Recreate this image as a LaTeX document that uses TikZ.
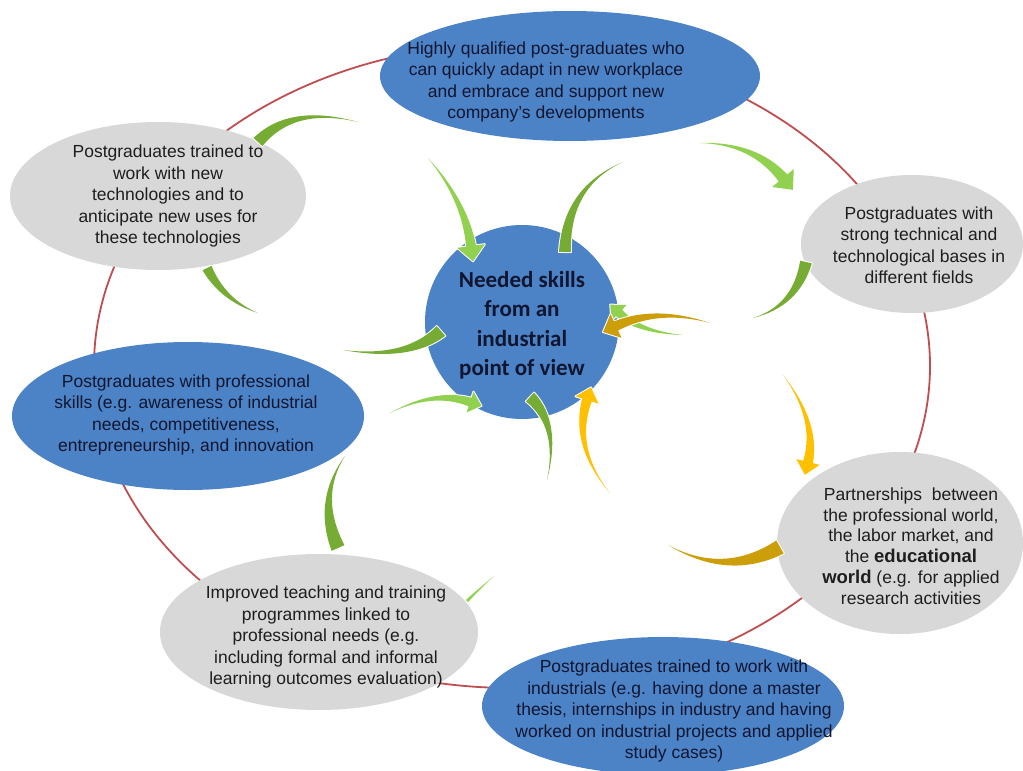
\documentclass[tikz,border=0pt]{standalone}
\usepackage{fontspec}
\setmainfont{Liberation Sans}
\newfontfamily\carlitofont{Carlito}
\usetikzlibrary{calc,shapes.geometric}
\definecolor{ellblue}{RGB}{76,130,198}
\definecolor{ellgray}{RGB}{216,216,216}
\definecolor{ringred}{RGB}{190,78,80}
\definecolor{lgreen}{RGB}{146,208,80}
\definecolor{dgreen}{RGB}{118,172,52}
\definecolor{gold}{RGB}{255,192,0}
\definecolor{dgold}{RGB}{204,158,10}
\definecolor{navytext}{RGB}{16,22,48}
\definecolor{graytext}{RGB}{30,30,30}
\tikzset{
  blueell/.style={ellipse, fill=ellblue, inner sep=0pt},
  grayell/.style={ellipse, fill=ellgray, inner sep=0pt},
  ringstyle/.style={ellipse, draw=ringred, line width=1.8pt, inner sep=0pt},
  bodytext/.style={align=center, inner sep=0pt, font=\fontsize{17.5}{21.5}\selectfont},
  centertext/.style={align=center, inner sep=0pt, text=navytext, font=\carlitofont\bfseries\fontsize{23}{29.5}\selectfont},
}
% tapered curved arrow: #1 colour, #2 tail, #3 control, #4 end, #5 half width, #6 head half width
\newcommand\crv[6]{%
  \coordinate (qa) at ($(#3)!#5/2!90:(#4)$);
  \coordinate (qb) at ($(#3)!#5/2!-90:(#4)$);
  \coordinate (ea) at ($(#4)!#5!-90:(#3)$);
  \coordinate (eb) at ($(#4)!#5!90:(#3)$);
  \coordinate (ca) at ($(#2)!2/3!(qa)$);
  \coordinate (da) at ($(ea)!2/3!(qa)$);
  \coordinate (cb) at ($(#2)!2/3!(qb)$);
  \coordinate (db) at ($(eb)!2/3!(qb)$);
  \coordinate (ha) at ($(#4)!#6!-90:(#3)$);
  \coordinate (hb) at ($(#4)!#6!90:(#3)$);
  \coordinate (ht) at ($(#4)!-1.1*#6!(#3)$);
  \path[draw=white, fill=white, line width=2pt, line join=round]
    (#2) .. controls (ca) and (da) .. (ea) -- (eb) .. controls (db) and (cb) .. (#2) -- cycle
    (ha) -- (ht) -- (hb) -- cycle;
  \fill[#1]
    (#2) .. controls (ca) and (da) .. (ea) -- (eb) .. controls (db) and (cb) .. (#2) -- cycle
    (ha) -- (ht) -- (hb) -- cycle;
}
\begin{document}
\begin{tikzpicture}[x=1pt,y=-1pt]
\useasboundingbox (0,0) rectangle (1023,771);
\fill[white] (0,0) rectangle (1023,771);

% ring
\node[ringstyle, minimum width=836pt, minimum height=644pt] (ring) at (512,366) {};

% ellipses
\node[blueell, minimum width=380pt, minimum height=130pt] (top) at (570,76) {};
\node[grayell, minimum width=296pt, minimum height=148pt] (tl) at (158,196) {};
\node[grayell, minimum width=222pt, minimum height=138pt] (rt) at (912,244) {};
\node[blueell, minimum width=352pt, minimum height=148pt] (lb) at (188,416) {};
\node[grayell, minimum width=246pt, minimum height=182pt] (br) at (900,543) {};
\node[grayell, minimum width=318pt, minimum height=156pt] (bl) at (319,632) {};
\node[blueell, minimum width=362pt, minimum height=138pt] (bb) at (663,706) {};
\node[circle, fill=ellblue, minimum size=194pt, inner sep=0pt] (hub) at (522,322) {};

% texts
\node[bodytext, text=navytext] (toptext) at (546,82) {Highly qualified post-graduates who\\can quickly adapt in new workplace\\and embrace and support new\\company's developments};
\node[bodytext, text=graytext] (tltext) at (168,196) {Postgraduates trained to\\work with new\\technologies and to\\anticipate new uses for\\these technologies};
\node[bodytext, text=graytext] (rttext) at (919,245) {Postgraduates with\\strong technical and\\technological bases in\\different fields};
\node[bodytext, text=navytext] (lbtext) at (186,415) {Postgraduates with professional\\skills (e.g. awareness of industrial\\needs, competitiveness,\\entrepreneurship, and innovation};
\node[bodytext, text=graytext, font=\fontsize{17.5}{20.8}\selectfont] (brtext) at (911,546) {Partnerships\ \ between\\the professional world,\\the labor market, and\\the {\bfseries\fontsize{18.5}{20.8}\selectfont educational}\\{\bfseries\fontsize{18.5}{20.8}\selectfont world} (e.g. for applied\\research activities};
\node[bodytext, text=graytext] (bltext) at (326,637) {Improved teaching and training\\programmes linked to\\professional needs (e.g.\\including formal and informal\\learning outcomes evaluation)};
\node[bodytext, text=navytext] (bbtext) at (674,711) {Postgraduates trained to work with\\industrials (e.g. having done a master\\thesis, internships in industry and having\\worked on industrial projects and applied\\study cases)};
\node[centertext] (hubtext) at (522,325) {Needed skills\\from an\\industrial\\point of view};

% arrows
\crv{dgreen}{358,122}{292,105}{258,142}{6pt}{0pt}
\crv{lgreen}{428,158}{465,201}{471,246}{5pt}{14pt}
\crv{dgreen}{623,162}{566,187}{565,252}{6pt}{0pt}
\crv{lgreen}{700,143}{754,143}{783,178}{5.5pt}{14pt}
\crv{dgreen}{753,318}{796,306}{806,262}{6pt}{0pt}
\crv{lgreen}{683,335}{639,332}{619,313}{4.5pt}{11pt}
\crv{dgold}{710,323}{657,307}{616,326}{5pt}{13pt}
\crv{gold}{783,375}{818,421}{808,462}{5pt}{12pt}
\crv{dgold}{668,545}{726,578}{780,547}{7.5pt}{0pt}
\crv{gold}{610,493}{572,447}{587,400}{5pt}{12pt}
\crv{dgreen}{547,480}{560,425}{530,397}{6pt}{0pt}
\crv{lgreen}{390,413}{434,390}{470,402}{4.5pt}{11pt}
\crv{dgreen}{343,350}{408,360}{441,331}{6.5pt}{0pt}
\crv{dgreen}{258,313}{223,300}{207,268}{5pt}{0pt}
\crv{dgreen}{345,456}{316,498}{338,548}{7pt}{0pt}
\crv{lgreen}{494,576}{478,590}{467,601}{1.5pt}{0pt}
\end{tikzpicture}
\end{document}
